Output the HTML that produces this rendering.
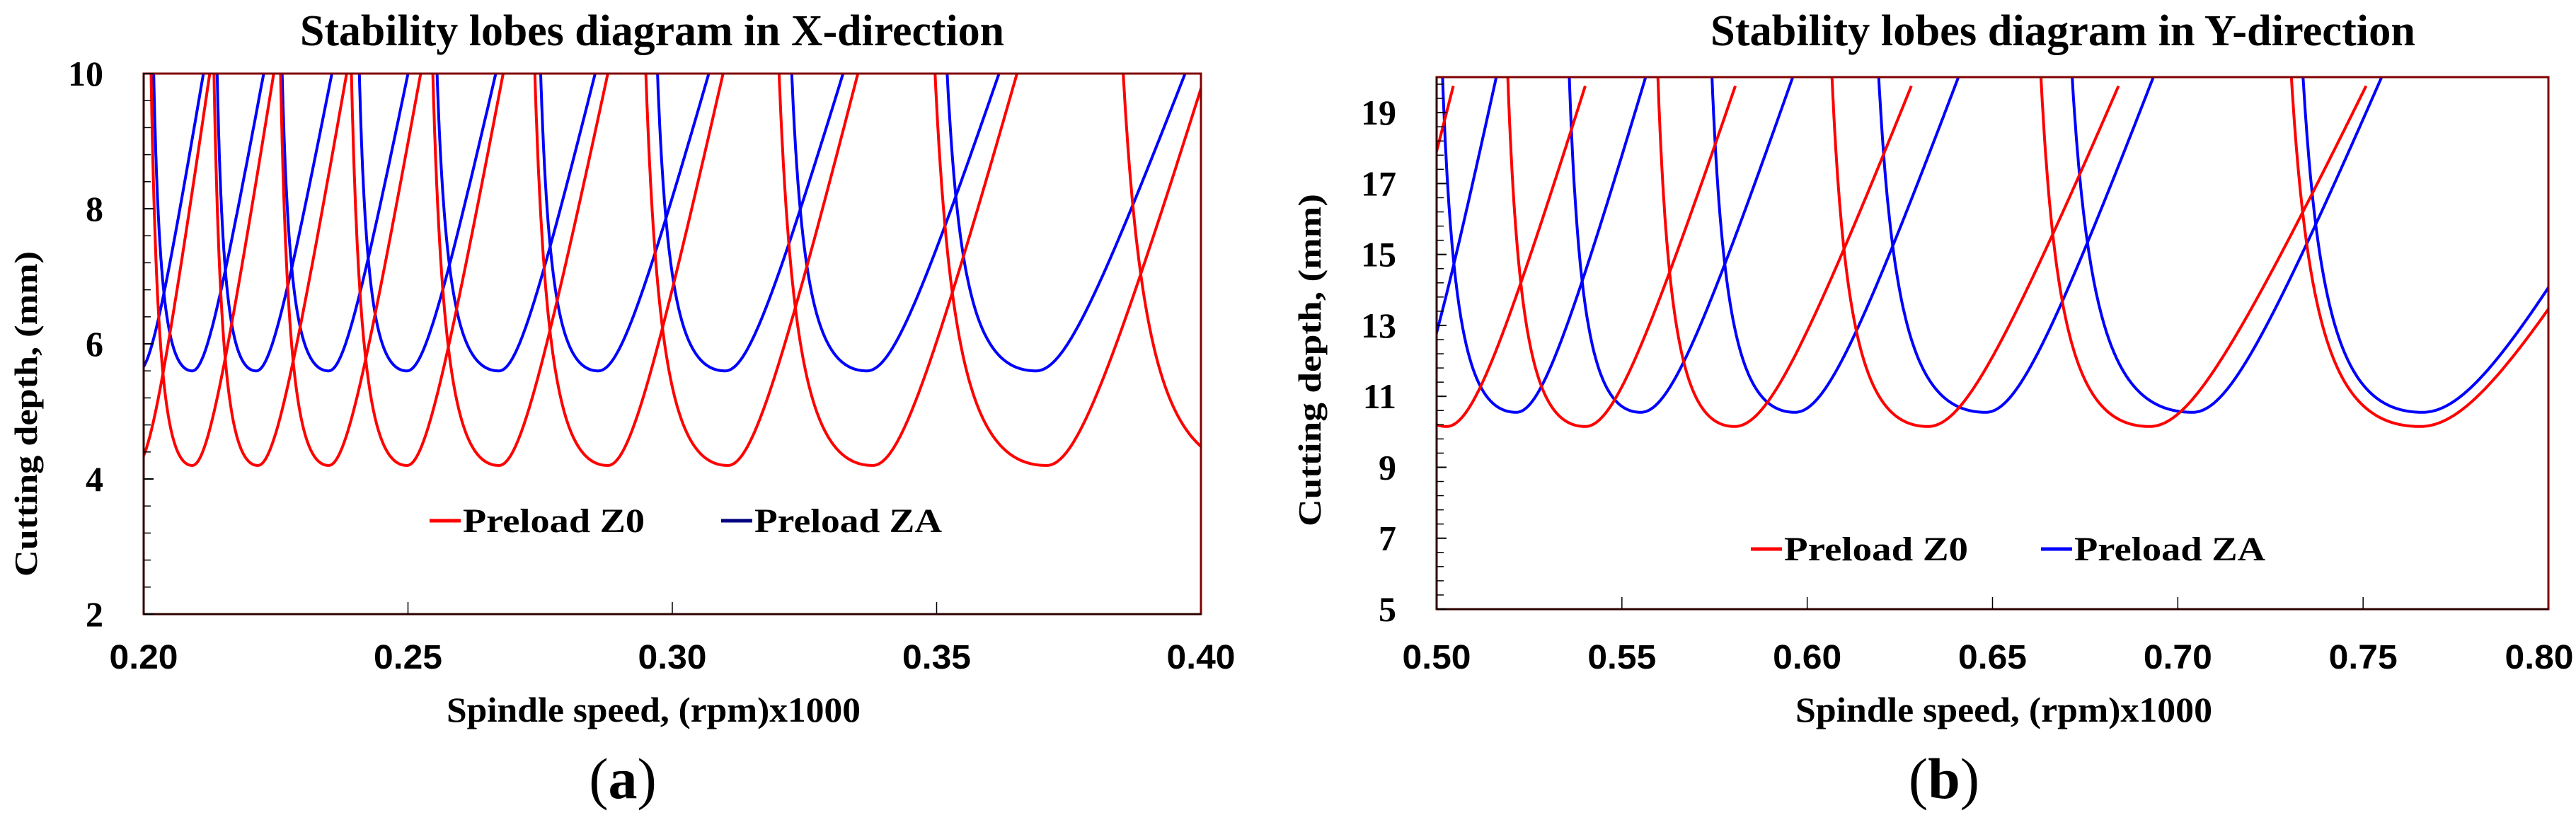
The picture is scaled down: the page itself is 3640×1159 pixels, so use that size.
<!DOCTYPE html>
<html><head><meta charset="utf-8"><style>
html,body{margin:0;padding:0;background:#fff;}
svg{display:block;}
text{font-family:"Liberation Serif",serif;font-weight:bold;fill:#000;}
.tk{font-family:"Liberation Sans",sans-serif;}
</style></head><body>
<svg id="svg" width="3640" height="1159" viewBox="0 0 3640 1159" xmlns="http://www.w3.org/2000/svg">
<defs>
<clipPath id="clipA"><rect x="203" y="104" width="1494" height="764"/></clipPath>
<clipPath id="clipB"><rect x="2030" y="109" width="1571" height="752"/></clipPath>
</defs>
<g id="panelA"></g>
<g id="panelB"></g>
</svg>
<script>
// ---- Panel A data (X-direction) ----
const aXTicks = [0.20, 0.25, 0.30, 0.35, 0.40];
const aXTickLabels = ["0.20", "0.25", "0.30", "0.35", "0.40"];
const aYTicks = [2, 4, 6, 8, 10];
const aZ0Min = [0.1985, 0.2092, 0.2216, 0.2350, 0.2498, 0.2672, 0.2878, 0.3105, 0.3379, 0.3708, 0.4100];
const aZ0Left = [0.1900, 0.2014, 0.2133, 0.2259, 0.2393, 0.2547, 0.2740, 0.2950, 0.3202, 0.3497, 0.3853];
const aZ0Right = [0.2125, 0.2246, 0.2384, 0.2524, 0.2680, 0.2878, 0.3096, 0.3351, 0.3652, 0.4009, 0.4600];
const aZ0Depth = 4.2;
const aZADMin = [0.1990, 0.2092, 0.2213, 0.2350, 0.2498, 0.2672, 0.2860, 0.3100, 0.3368, 0.3688];
const aZALeft = [0.1900, 0.2019, 0.2139, 0.2262, 0.2408, 0.2555, 0.2751, 0.2972, 0.3226, 0.3520];
const aZARight = [0.2113, 0.2227, 0.2356, 0.2500, 0.2666, 0.2854, 0.3069, 0.3323, 0.3618, 0.3970];
const aZADepth = 5.6;
// ---- Panel B data (Y-direction) ----
const bXTicks = [0.50, 0.55, 0.60, 0.65, 0.70, 0.75, 0.80];
const bXTickLabels = ["0.50", "0.55", "0.60", "0.65", "0.70", "0.75", "0.80"];
const bYTicks = [5, 7, 9, 11, 13, 15, 17, 19];
const bZ0Min = [0.4745, 0.5027, 0.5401, 0.5804, 0.6326, 0.6924, 0.7654];
const bZ0Left = [0.4550, 0.4848, 0.5193, 0.5598, 0.6068, 0.6632, 0.7308];
const bZ0Right = [0.5045, 0.5401, 0.5806, 0.6281, 0.6840, 0.7508, 0.8392];
const bZ0Depth = 10.15;
const bZAMin = [0.4905, 0.5215, 0.5551, 0.5967, 0.6482, 0.7040, 0.7660];
const bZALeft = [0.4700, 0.5016, 0.5358, 0.5743, 0.6193, 0.6715, 0.7338];
const bZARight = [0.5161, 0.5564, 0.5961, 0.6408, 0.6934, 0.7550, 0.8350];
const bZADepth = 10.55;

const NS = "http://www.w3.org/2000/svg";
function mk(parent, tag, attrs, txt) {
  const e = document.createElementNS(NS, tag);
  for (const k in attrs) e.setAttribute(k, attrs[k]);
  if (txt !== undefined) e.textContent = txt;
  parent.appendChild(e);
  return e;
}
const POLE = 1.25;
function gL(u) { return u * u / (POLE - u); }
function hR(u) { return Math.sqrt(1 + (u / 0.3) * (u / 0.3)) - 1; }

function drawPanel(cfg) {
  const g = document.getElementById(cfg.id);
  const sx = v => cfg.x0 + (v - cfg.xmin) / (cfg.xmax - cfg.xmin) * (cfg.x1 - cfg.x0);
  const sy = v => cfg.y1 - (v - cfg.ymin) / (cfg.ymax - cfg.ymin) * (cfg.y1 - cfg.y0);
  const t = mk(g, "text", {x: cfg.titleX, y: 64, "font-size": 62, textLength: cfg.titleW, lengthAdjust: "spacingAndGlyphs"}, cfg.title);
  
  
  const sg = mk(g, "g", {"clip-path": "url(#" + cfg.clip + ")"});
  
  
  cfg.series.forEach(s => {
    s.mins.forEach((xm, i) => {
      const L = s.lefts[i], R = s.rights[i], d0 = s.depth, top = s.top;
      let pts = [];
      const uMax = POLE - 0.01;
      const n = Math.round(uMax / 0.004);
      for (let k = 0; k <= n; k++) {
        const u = uMax - k * 0.004;
        const d = d0 + (top - d0) * gL(Math.max(u, 0)) / gL(1);
        if (d > cfg.ymax + 1) continue;
        pts.push(sx(xm - u * (xm - L)).toFixed(1) + "," + sy(d).toFixed(1));
      }
      for (let k = 1; k <= 500; k++) {
        const u = k * 0.004;
        let d = d0 + (top - d0) * hR(u) / hR(1);
        if (d >= s.cap) {
          const ratio = (s.cap - d0) / (top - d0) * hR(1) + 1;
          const uc = 0.3 * Math.sqrt(ratio * ratio - 1);
          pts.push(sx(xm + uc * (R - xm)).toFixed(1) + "," + sy(s.cap).toFixed(1));
          break;
        }
        pts.push(sx(xm + u * (R - xm)).toFixed(1) + "," + sy(d).toFixed(1));
      }
      const p = mk(sg, "polyline", {points: pts.join(" "), fill: "none", stroke: s.color, "stroke-width": 4, "stroke-linejoin": "round"});
      
      
    });
  });
  const fr = mk(g, "rect", {x: cfg.x0, y: cfg.y0, width: cfg.x1 - cfg.x0, height: cfg.y1 - cfg.y0, fill: "none", stroke: "#800000", "stroke-width": 3});
  
  
  const bx = mk(g, "line", {x1: cfg.x0, y1: cfg.y1, x2: cfg.x1, y2: cfg.y1, stroke: "#300000", "stroke-width": 3});
  
  
  const ly = mk(g, "line", {x1: cfg.x0, y1: cfg.y0, x2: cfg.x0, y2: cfg.y1, stroke: "#300000", "stroke-width": 3});
  
  
  cfg.xticks.forEach((v, i) => {
    const x = sx(v);
    if (i > 0 && i < cfg.xticks.length - 1) {
      const l = mk(g, "line", {x1: x, y1: cfg.y1, x2: x, y2: cfg.y1 - 17, stroke: "#000", "stroke-width": 1.5});
      
      
    }
    const lx = Math.min(x, 3588);
    const tl = mk(g, "text", {x: lx, y: 945, "font-size": 48, "text-anchor": "middle", textLength: 97, lengthAdjust: "spacingAndGlyphs", class: "tk"}, cfg.xlabels[i]);
    
    
  });
  for (let v = cfg.ymin; v <= cfg.ymax + 1e-6; v += 0.4) {
    const y = sy(v);
    const l = mk(g, "line", {x1: cfg.x0, y1: y, x2: cfg.x0 + 10, y2: y, stroke: "#000", "stroke-width": 1.5});
    
    
  }
  cfg.yticks.forEach(v => {
    const y = sy(v);
    const l = mk(g, "line", {x1: cfg.x0, y1: y, x2: cfg.x0 + 14, y2: y, stroke: "#000", "stroke-width": 2});
    
    
    const tl = mk(g, "text", {x: cfg.x0 - 57, y: y + 17, "font-size": 50, "text-anchor": "end"}, String(v));
    
    
  });
  const xt = mk(g, "text", {x: cfg.xtitleX, y: 1020, "font-size": 50, textLength: cfg.xtitleW, lengthAdjust: "spacingAndGlyphs"}, "Spindle speed, (rpm)x1000");
  
  
  const yt = mk(g, "text", {x: 0, y: 0, "font-size": 46, "text-anchor": "middle", textLength: cfg.ytitleW, lengthAdjust: "spacingAndGlyphs", transform: "translate(" + cfg.ytitleX + "," + cfg.ytitleY + ") rotate(-90)"}, "Cutting depth, (mm)");
  
  
  cfg.legend.forEach(e => {
    const lg = mk(g, "g", {});
    
    
    mk(lg, "line", {x1: e.x, y1: cfg.legY, x2: e.x + 44, y2: cfg.legY, stroke: e.color, "stroke-width": 5});
    mk(lg, "text", {x: e.x + 47, y: cfg.legY + 16, "font-size": 48, textLength: e.w, lengthAdjust: "spacingAndGlyphs"}, e.label);
  });
  const cap = mk(g, "text", {x: cfg.capX, y: 1128, "font-size": 82, "text-anchor": "middle", style: "font-weight:normal"}, "");
  
  
  mk(cap, "tspan", {}, "(");
  mk(cap, "tspan", {style: "font-weight:bold"}, cfg.capLetter);
  mk(cap, "tspan", {}, ")");
}

drawPanel({
  id: "panelA", clip: "clipA", x0: 203, x1: 1697, y0: 104, y1: 868,
  xmin: 0.2, xmax: 0.4, ymin: 2, ymax: 10,
  xticks: aXTicks, xlabels: aXTickLabels, yticks: aYTicks,
  title: "Stability lobes diagram in X-direction", titleX: 424, titleW: 995,
  xtitleX: 631, xtitleW: 585, ytitleX: 52, ytitleY: 585, ytitleW: 460,
  legY: 736, capX: 880, capLetter: "a",
  legend: [{x: 607, color: "#ff0000", label: "Preload  Z0", w: 257}, {x: 1019, color: "#000080", label: "Preload  ZA", w: 265}],
  series: [
    {name: "preload-za", color: "#0000ff", mins: aZADMin, lefts: aZALeft, rights: aZARight, depth: aZADepth, top: 10, cap: 10.5},
    {name: "preload-z0", color: "#ff0000", mins: aZ0Min, lefts: aZ0Left, rights: aZ0Right, depth: aZ0Depth, top: 10, cap: 10.5}
  ]
});
drawPanel({
  id: "panelB", clip: "clipB", x0: 2030, x1: 3601, y0: 109, y1: 861,
  xmin: 0.5, xmax: 0.8, ymin: 5, ymax: 20,
  xticks: bXTicks, xlabels: bXTickLabels, yticks: bYTicks,
  title: "Stability lobes diagram in Y-direction", titleX: 2417, titleW: 996,
  xtitleX: 2537, xtitleW: 589, ytitleX: 1866, ytitleY: 509, ytitleW: 470,
  legY: 776, capX: 2747, capLetter: "b",
  legend: [{x: 2474, color: "#ff0000", label: "Preload  Z0", w: 260}, {x: 2884, color: "#0000ff", label: "Preload  ZA", w: 270}],
  series: [
    {name: "preload-za", color: "#0000ff", mins: bZAMin, lefts: bZALeft, rights: bZARight, depth: bZADepth, top: 20, cap: 20.5},
    {name: "preload-z0", color: "#ff0000", mins: bZ0Min, lefts: bZ0Left, rights: bZ0Right, depth: bZ0Depth, top: 19.75, cap: 19.75}
  ]
});
</script>
</body></html>
